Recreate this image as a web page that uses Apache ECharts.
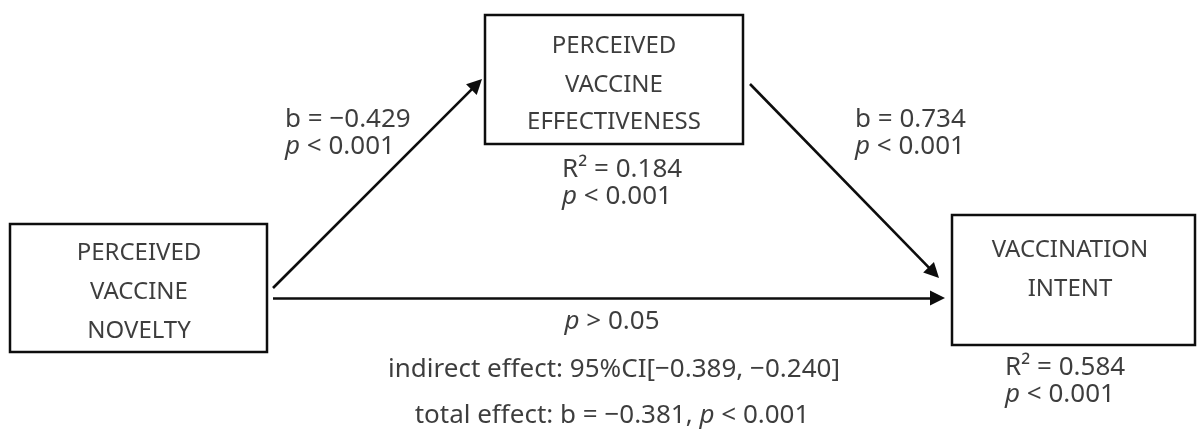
<!DOCTYPE html>
<html>
<head>
<meta charset="utf-8">
<script src="https://cdn.jsdelivr.net/npm/echarts@6/dist/echarts.min.js"></script>
<style>html,body{margin:0;padding:0;background:#fff}#c{width:1200px;height:430px}</style>
</head>
<body>
<div id="c"></div>
<script>
// Diagram nodes: [name, x0, y0, x1, y1] in diagram units
var boxes = [
  ['novelty', 10, 224, 267, 352],
  ['effectiveness', 485, 15, 743, 144],
  ['intent', 952, 215, 1195, 345]
];
// Box captions: [x, y, text]
var boxText = [
  [139, 253, 'PERCEIVED'], [139, 292, 'VACCINE'], [139, 331, 'NOVELTY'],
  [614, 46, 'PERCEIVED'], [614, 85, 'VACCINE'], [614, 122, 'EFFECTIVENESS'],
  [1070, 250, 'VACCINATION'], [1070, 289, 'INTENT']
];
// Paths: [x0, y0, x1, y1] (end = arrowhead centre)
var paths = [
  [273, 288, 476.7, 84.3],
  [750, 84, 933.8, 272.6],
  [273, 298, 937.5, 298]
];
// Statistics labels: [x, y, text, align]
var stats = [
  [285, 120, 'b = \u22120.429', 'left'],
  [285, 147, '{i|p} < 0.001', 'left'],
  [855, 120, 'b = 0.734', 'left'],
  [855, 147, '{i|p} < 0.001', 'left'],
  [562, 170, 'R\u00b2 = 0.184', 'left'],
  [562, 197, '{i|p} < 0.001', 'left'],
  [1005, 368, 'R\u00b2 = 0.584', 'left'],
  [1005, 395, '{i|p} < 0.001', 'left'],
  [612, 322, '{i|p} > 0.05', 'center'],
  [614, 370, 'indirect effect: 95%CI[\u22120.389, \u22120.240]', 'center'],
  [612, 416, 'total effect: b = \u22120.381, {i|p} < 0.001', 'center']
];

var FONT = 'Noto Sans';
var COLOR = '#0d0d0d';

var chart = echarts.init(document.getElementById('c'));
chart.setOption({
  animation: false,
  grid: {left: 0, right: 0, top: 0, bottom: 0},
  xAxis: {type: 'value', min: 0, max: 1200, show: false},
  yAxis: {type: 'value', min: 0, max: 430, inverse: true, show: false},
  series: [
    {
      type: 'custom',
      data: boxes.map(function (b) { return [b[1], b[2], b[3], b[4]]; }),
      renderItem: function (params, api) {
        var p0 = api.coord([api.value(0), api.value(1)]);
        var p1 = api.coord([api.value(2), api.value(3)]);
        return {
          type: 'rect',
          shape: {x: p0[0], y: p0[1], width: p1[0] - p0[0], height: p1[1] - p0[1]},
          style: {fill: '#fff', stroke: COLOR, lineWidth: 2.5}
        };
      }
    },
    {
      type: 'lines',
      coordinateSystem: 'cartesian2d',
      symbol: ['none', 'triangle'],
      symbolSize: 15,
      lineStyle: {color: COLOR, width: 2.6, opacity: 1},
      data: paths.map(function (p) { return {coords: [[p[0], p[1]], [p[2], p[3]]]}; })
    },
    {
      type: 'scatter',
      symbolSize: 0,
      silent: true,
      data: boxText.map(function (t) { return {value: [t[0], t[1]], name: t[2]}; }),
      label: {
        show: true, position: 'inside', formatter: '{b}',
        fontFamily: FONT, fontSize: 24, color: COLOR, align: 'center', verticalAlign: 'middle'
      }
    },
    {
      type: 'scatter',
      symbolSize: 0,
      silent: true,
      data: stats.map(function (t) {
        return {
          value: [t[0], t[1]], name: t[2],
          label: {align: t[3]}
        };
      }),
      label: {
        show: true, position: 'inside', formatter: '{b}',
        fontFamily: FONT, fontSize: 26, color: COLOR, verticalAlign: 'middle',
        rich: {i: {fontStyle: 'italic', fontFamily: FONT, fontSize: 26, color: COLOR}}
      }
    }
  ]
});
</script>
</body>
</html>
